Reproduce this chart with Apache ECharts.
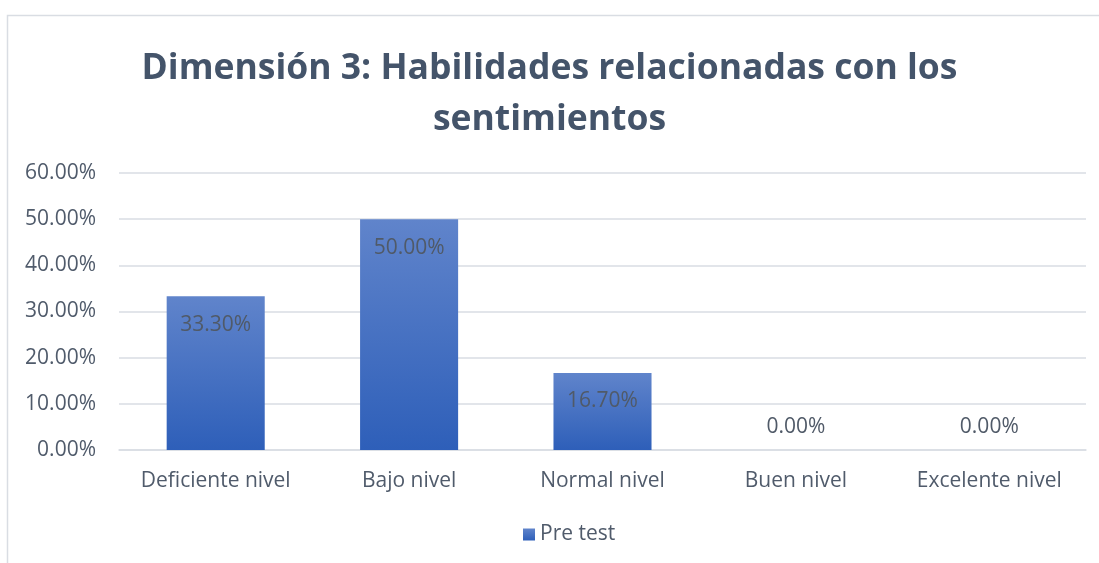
<!DOCTYPE html>
<html>
<head>
<meta charset="utf-8">
<script src="https://cdn.jsdelivr.net/npm/echarts@6/dist/echarts.min.js"></script>
<style>
  html, body { margin: 0; padding: 0; background: #fff; }
  #chart { width: 1099px; height: 563px; }
</style>
<title>Dimensión 3</title>
</head>
<body>
<div id="chart"></div>
<script type="text/javascript">
  // datos
  var categorias = ['Deficiente nivel', 'Bajo nivel', 'Normal nivel', 'Buen nivel', 'Excelente nivel'];
  var preTest = [33.3, 50.0, 16.7, 0.0, 0.0];
  var ticksY = [0, 10, 20, 30, 40, 50, 60];

  var txt = '#505b6b';
  var fuente = 'Open Sans';
  var myChart = echarts.init(document.getElementById('chart'));

  var barras = preTest.map(function (v) {
    return {
      value: v,
      label: v > 0 ? { position: 'insideTop', distance: 18 } : { position: 'top', distance: 12 }
    };
  });

  var option = {
    animation: false,
    textStyle: { fontFamily: fuente },
    title: {
      text: 'Dimensión 3: Habilidades relacionadas con los\nsentimientos',
      left: 'center',
      top: 38,
      textStyle: { fontSize: 35.5, fontWeight: 'bold', color: '#44546a', lineHeight: 51, fontFamily: fuente }
    },
    graphic: [{
      type: 'polyline',
      shape: { points: [[7.5, 563], [7.5, 15.5], [1099, 15.5]] },
      style: { stroke: '#d9dde3', lineWidth: 1.5, fill: null }
    }],
    grid: { left: 119, right: 13, top: 173, bottom: 113 },
    legend: {
      data: ['Pre test'],
      bottom: 13,
      left: 518,
      itemWidth: 12,
      itemHeight: 12,
      icon: 'rect',
      textStyle: { fontSize: 21, color: txt, fontFamily: fuente }
    },
    xAxis: {
      type: 'category',
      data: categorias,
      axisLine: { lineStyle: { color: '#d9dde3', width: 1.5 } },
      axisTick: { show: false },
      axisLabel: { fontSize: 21, color: txt, margin: 21, interval: 0, fontFamily: fuente }
    },
    yAxis: {
      type: 'value',
      min: ticksY[0],
      max: ticksY[ticksY.length - 1],
      interval: 10,
      axisLine: { show: false },
      axisTick: { show: false },
      splitLine: { lineStyle: { color: '#d9dde3', width: 1.5 } },
      axisLabel: {
        fontSize: 21, color: txt, margin: 23, fontFamily: fuente,
        formatter: function (v) { return v.toFixed(2) + '%'; }
      }
    },
    series: [{
      name: 'Pre test',
      type: 'bar',
      data: barras,
      barWidth: '50.7%',
      itemStyle: {
        color: new echarts.graphic.LinearGradient(0, 0, 0, 1, [
          { offset: 0, color: '#6084cb' },
          { offset: 1, color: '#2e5fb9' }
        ])
      },
      label: {
        show: true,
        fontSize: 21,
        color: '#505a68',
        fontFamily: fuente,
        formatter: function (p) { return p.value.toFixed(2) + '%'; }
      }
    }]
  };

  myChart.setOption(option);
</script>
</body>
</html>
